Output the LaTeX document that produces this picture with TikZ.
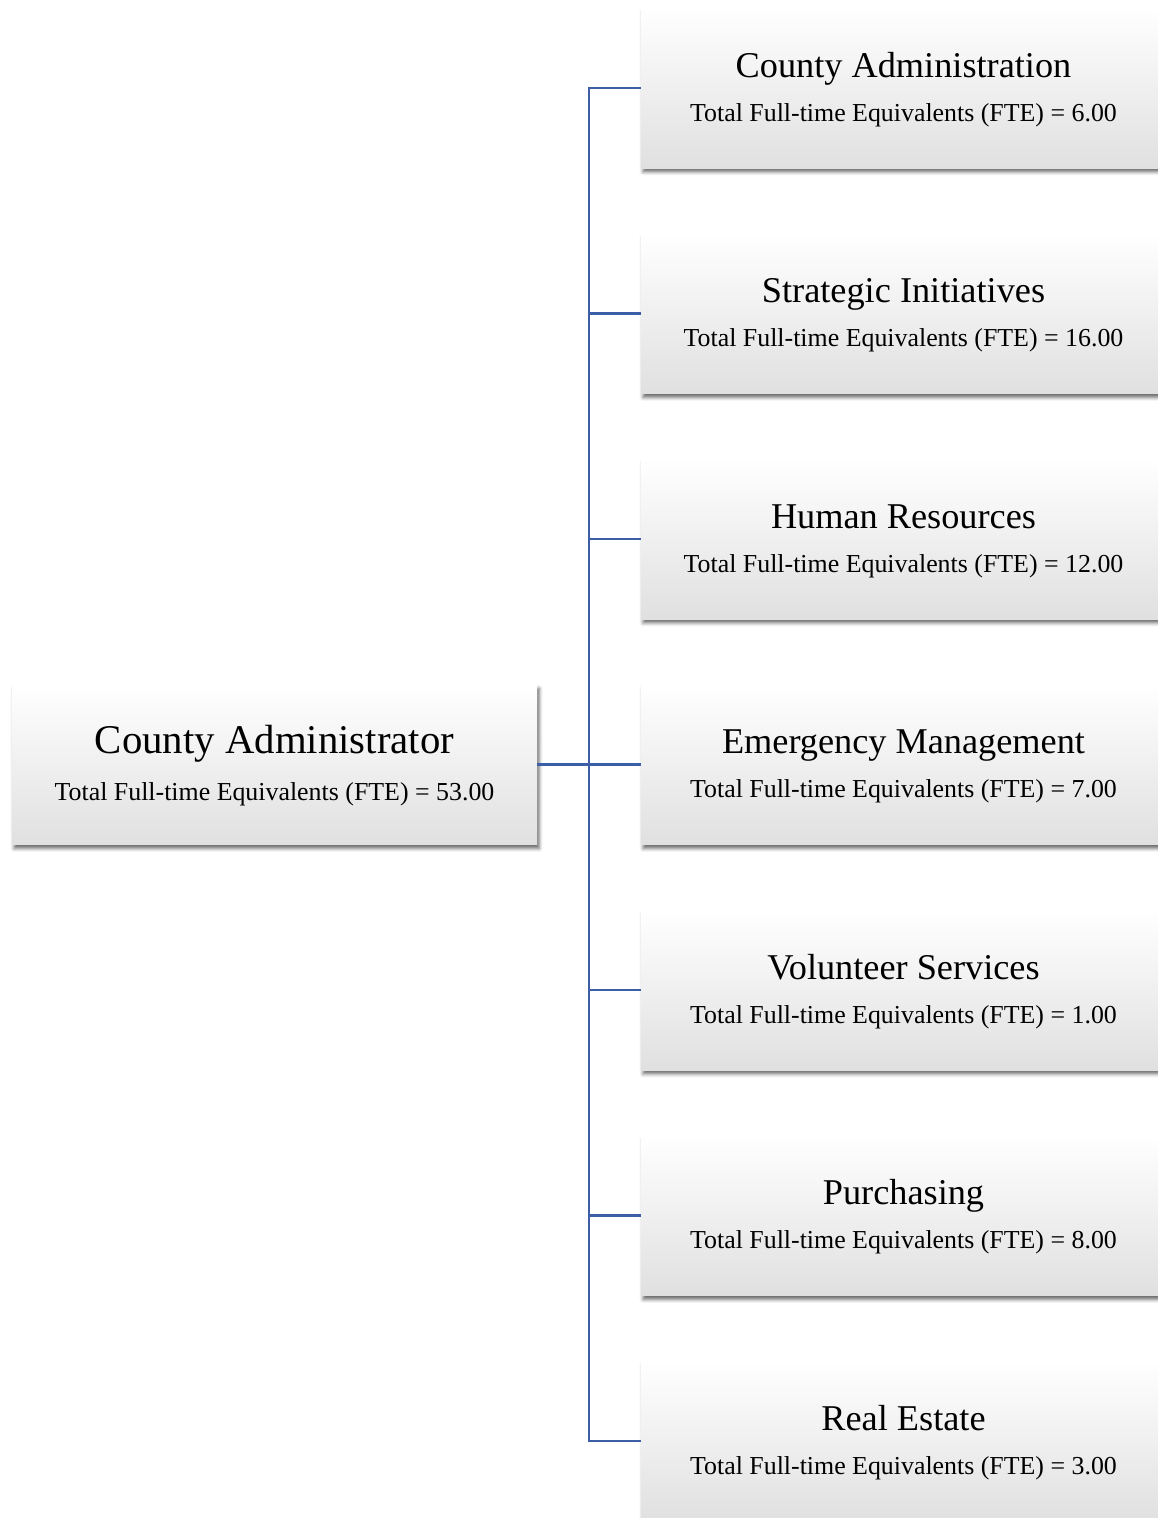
\documentclass[tikz,border=0pt]{standalone}
\usepackage{fontspec}
\setmainfont{Liberation Serif}
\usetikzlibrary{positioning, calc, shadows.blur}
\definecolor{linkblue}{RGB}{59,94,167}
\definecolor{boxgray}{RGB}{224,224,224}

\begin{document}
\begin{tikzpicture}[
    x=0.025cm, y=0.025cm,
    unit/.style={
        rectangle, minimum width=13.125cm, minimum height=4cm, inner sep=0pt,
        top color=white, middle color=white, bottom color=boxgray,
        blur shadow={shadow xshift=1.5pt, shadow yshift=-2.8pt,
                     shadow blur radius=2.5pt, shadow opacity=60}
    },
    head/.style={anchor=base, font=\fontsize{25.8}{30}\selectfont},
    bighead/.style={anchor=base, font=\fontsize{29}{34}\selectfont},
    fte/.style={anchor=base, font=\fontsize{18.4}{22}\selectfont},
    link/.style={draw=linkblue, line width=1.7pt},
]
\useasboundingbox (0,0) rectangle (1157,-1518);

% --- County Administrator (left) ---
\node[unit] (CAd) at (274.5, -764.5) {};
\node[bighead] (CAdT) at ($(CAd.center)+(0,11)$) {County Administrator};
\node[fte] (CAdS) at ($(CAd.center)+(0,-36)$) {Total Full-time Equivalents (FTE) = 53.00};

% --- County Administration ---
\node[unit] (CAn) at (903.5, -88) {};
\node[head] (CAnT) at ($(CAn.center)+(0,11)$) {County Administration};
\node[fte] (CAnS) at ($(CAn.center)+(0,-33)$) {Total Full-time Equivalents (FTE) = 6.00};

% --- Strategic Initiatives ---
\node[unit] (SI) at (903.5, -313.5) {};
\node[head] (SIT) at ($(SI.center)+(0,11)$) {Strategic Initiatives};
\node[fte] (SIS) at ($(SI.center)+(0,-33)$) {Total Full-time Equivalents (FTE) = 16.00};

% --- Human Resources ---
\node[unit] (HR) at (903.5, -539) {};
\node[head] (HRT) at ($(HR.center)+(0,11)$) {Human Resources};
\node[fte] (HRS) at ($(HR.center)+(0,-33)$) {Total Full-time Equivalents (FTE) = 12.00};

% --- Emergency Management ---
\node[unit] (EM) at (903.5, -764.5) {};
\node[head] (EMT) at ($(EM.center)+(0,11)$) {Emergency Management};
\node[fte] (EMS) at ($(EM.center)+(0,-33)$) {Total Full-time Equivalents (FTE) = 7.00};

% --- Volunteer Services ---
\node[unit] (VS) at (903.5, -990) {};
\node[head] (VST) at ($(VS.center)+(0,11)$) {Volunteer Services};
\node[fte] (VSS) at ($(VS.center)+(0,-33)$) {Total Full-time Equivalents (FTE) = 1.00};

% --- Purchasing ---
\node[unit] (PU) at (903.5, -1215.5) {};
\node[head] (PUT) at ($(PU.center)+(0,11)$) {Purchasing};
\node[fte] (PUS) at ($(PU.center)+(0,-33)$) {Total Full-time Equivalents (FTE) = 8.00};

% --- Real Estate ---
\node[unit] (RE) at (903.5, -1441) {};
\node[head] (RET) at ($(RE.center)+(0,11)$) {Real Estate};
\node[fte] (RES) at ($(RE.center)+(0,-33)$) {Total Full-time Equivalents (FTE) = 3.00};

% --- Connections ---
\coordinate (spine) at (589, -764.5);
\draw[link] (CAd.east) -- (EM.west);
\draw[link] (spine) |- (CAn.west);
\draw[link] (spine) |- (SI.west);
\draw[link] (spine) |- (HR.west);
\draw[link] (spine) |- (VS.west);
\draw[link] (spine) |- (PU.west);
\draw[link] (spine) |- (RE.west);

\end{tikzpicture}
\end{document}
